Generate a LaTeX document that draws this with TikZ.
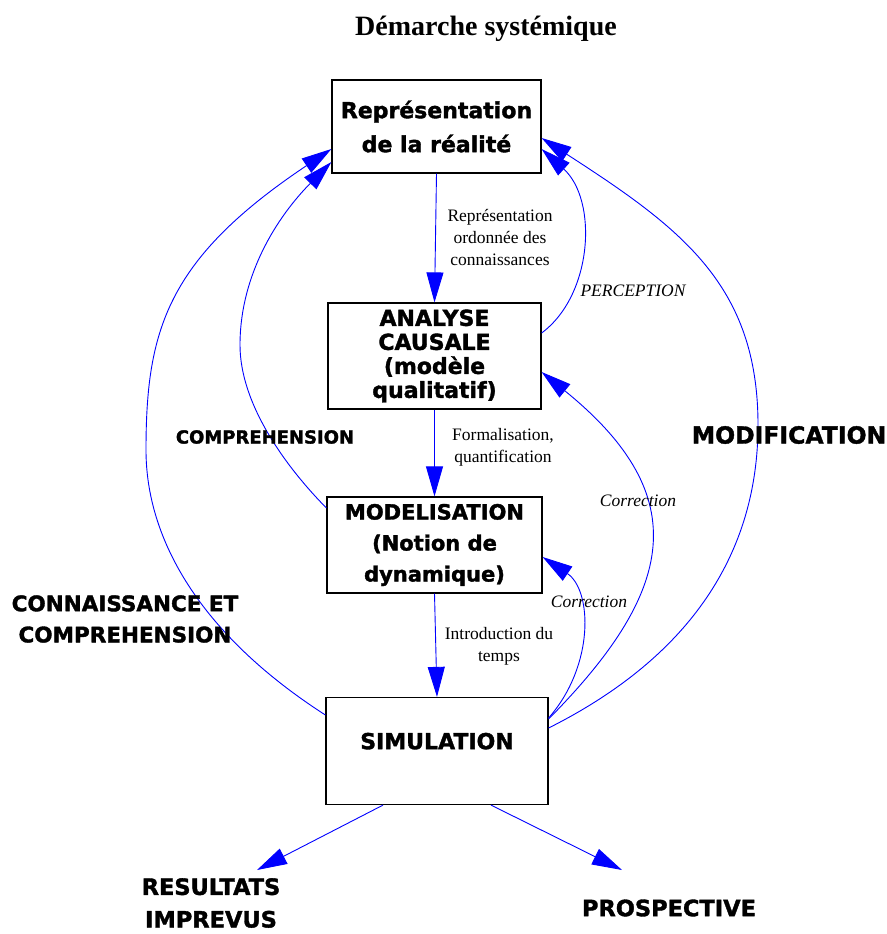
\documentclass[tikz,border=0pt]{standalone}
\usepackage{fontspec}
\setmainfont{Liberation Serif}
\newfontfamily\heavyfont{DejaVu Sans}[BoldFeatures={FakeBold=1.6}]
\usetikzlibrary{arrows.meta}

\begin{document}
\begin{tikzpicture}[x=1pt, y=-1pt, >={Triangle[length=30pt,width=17pt]},
        box/.style={draw, line width=1.2pt, inner sep=0pt, align=center},
        heavy/.style={align=center, font=\heavyfont\bfseries\fontsize{#1}{1.45\dimexpr#1pt\relax}\selectfont},
        flow/.style={->, blue, line width=0.9pt},
        note/.style={align=center, font=\fontsize{17.5}{22}\selectfont}]
        \useasboundingbox (0,0) rectangle (886,934);

        \node[font=\bfseries\fontsize{28}{34}\selectfont] (title) at (486,29) {Démarche systémique};

        % the four steps
        \node[box, minimum width=209pt, minimum height=93pt,
            font=\heavyfont\bfseries\fontsize{22}{34}\selectfont] (real) at (436.5,126.5) {Représentation\\de la réalité};
        \node[box, minimum width=213pt, minimum height=106pt,
            font=\heavyfont\bfseries\fontsize{22}{24}\selectfont] (analyse) at (434.5,356) {ANALYSE\\CAUSALE\\(modèle\\qualitatif)};
        \node[box, minimum width=215pt, minimum height=96pt,
            font=\heavyfont\bfseries\fontsize{21}{31}\selectfont] (model) at (434.5,545) {MODELISATION\\(Notion de\\dynamique)};
        \node[box, minimum width=222pt, minimum height=107pt, text depth=20pt,
            font=\heavyfont\bfseries\fontsize{22}{26}\selectfont] (simu) at (437,751) {SIMULATION};

        % main chain
        \draw[flow] (real.south) -- (analyse.north);
        \draw[flow] (analyse.south) -- (model.north);
        \draw[flow] (model.south) -- (simu.north);
        \node[note] (ordre) at (500,237) {Représentation\\ordonnée des\\connaissances};
        \node[note] (forme) at (503,447) {Formalisation,\\quantification};
        \node[note] (temps) at (499,646) {Introduction du\\temps};

        % loops back
        \draw[flow] ([yshift=23pt]analyse.east) .. controls (593,295) and (598,200) .. ([yshift=-22.5pt]real.east);
        \draw[flow] ([yshift=23pt]simu.east) .. controls (708,648) and (758,535) .. (758,425)
            .. controls (758,285) and (681,228) .. ([yshift=-11.5pt]real.east);
        \draw[flow] ([yshift=32pt]simu.east) .. controls (674,592) and (696,497) .. ([yshift=-16pt]analyse.east);
        \draw[flow] ([yshift=33pt]simu.east) .. controls (595,665) and (592,590) .. ([yshift=-12pt]model.east);
        \draw[flow] ([yshift=36pt]simu.west) .. controls (201,635) and (146,540) .. (146,450)
            .. controls (146,330) and (167,259) .. ([yshift=-22.5pt]real.west);
        \draw[flow] ([yshift=37pt]model.west) .. controls (287,468) and (240,405) .. (240,345)
            .. controls (240,275) and (277,217) .. ([yshift=-35.5pt]real.west);

        \node[note, font=\itshape\fontsize{17.5}{22}\selectfont] (percep) at (633,291) {PERCEPTION};
        \node[note, font=\itshape\fontsize{17.5}{22}\selectfont] (corrA) at (638,501) {Correction};
        \node[note, font=\itshape\fontsize{17.5}{22}\selectfont] (corrB) at (589,602) {Correction};
        \node[heavy=23.5] (modif) at (789,435) {MODIFICATION};
        \node[heavy=18] (compr) at (265,437) {COMPREHENSION};
        \node[heavy=21.5] (conn) at (125,619) {CONNAISSANCE ET\\COMPREHENSION};

        % outcomes
        \coordinate (resTip) at (257,870);
        \coordinate (proTip) at (622,870);
        \draw[flow] ([xshift=-54pt]simu.south) -- (resTip);
        \draw[flow] ([xshift=54pt]simu.south) -- (proTip);
        \node[heavy=22.5] (result) at (211,903) {RESULTATS\\IMPREVUS};
        \node[heavy=22.5] (prosp) at (669,908) {PROSPECTIVE};
    \end{tikzpicture}
\end{document}
